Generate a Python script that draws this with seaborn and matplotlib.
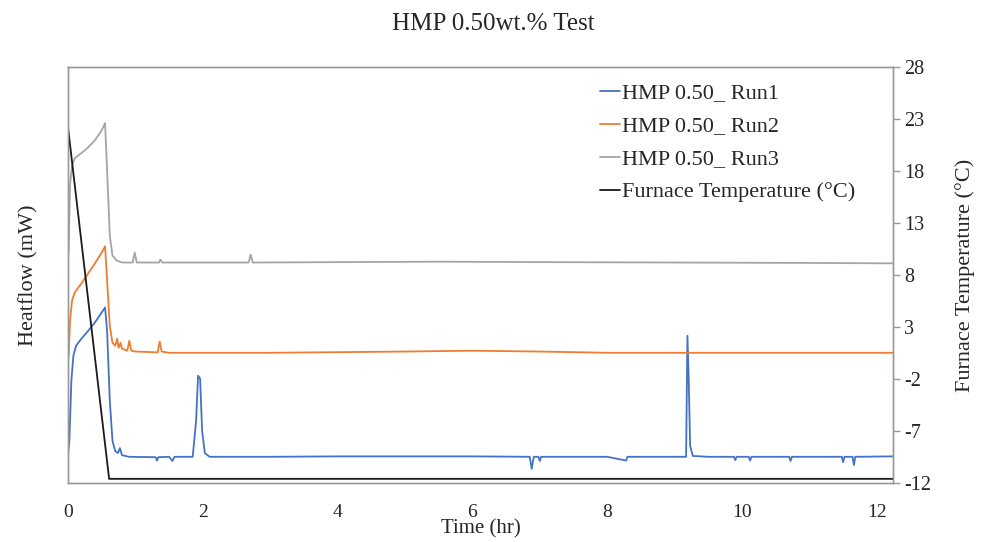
import matplotlib
matplotlib.use("Agg")
import matplotlib.pyplot as plt
import seaborn as sns
import pandas as pd

# ---- data ----
run1_t = [0.00, 0.02, 0.05, 0.08, 0.12, 0.20, 0.30, 0.40, 0.50, 0.55, 0.58, 0.62, 0.66, 0.70, 0.74, 0.77, 0.80,
          0.90, 1.30, 1.32, 1.34, 1.50, 1.55, 1.58, 1.85, 1.90, 1.93, 1.96, 1.99, 2.03, 2.10, 3.00, 4.00, 5.00,
          6.00, 6.85, 6.88, 6.91, 6.98, 7.00, 7.02, 8.00, 8.28, 8.30, 8.32, 9.17, 9.19, 9.21, 9.23, 9.27, 9.50,
          9.88, 9.90, 9.92, 10.10, 10.12, 10.14, 10.70, 10.72, 10.74, 11.48, 11.50, 11.52, 11.64, 11.66, 11.68,
          12.24]
run1_v = [7.0, 10.1, 24.6, 30.6, 33.0, 34.7, 36.6, 38.6, 41.0, 42.2, 36.6, 19.8, 10.1, 7.7, 7.2, 8.4, 6.7,
          6.3, 6.2, 5.4, 6.2, 6.3, 5.3, 6.3, 6.3, 14.9, 25.8, 25.1, 12.5, 7.2, 6.3, 6.3, 6.4, 6.4,
          6.4, 6.3, 3.4, 6.3, 6.3, 5.3, 6.3, 6.3, 5.4, 6.3, 6.3, 6.3, 35.4, 24.6, 8.9, 6.5, 6.3,
          6.3, 5.5, 6.3, 6.3, 5.4, 6.3, 6.3, 5.3, 6.3, 6.3, 5.0, 6.3, 6.3, 4.3, 6.3,
          6.4]

run2_t = [0.00, 0.01, 0.03, 0.06, 0.10, 0.20, 0.30, 0.40, 0.50, 0.55, 0.58, 0.62, 0.66, 0.70, 0.73, 0.75,
          0.78, 0.80, 0.88, 0.91, 0.94, 1.00, 1.33, 1.36, 1.39, 1.50, 3.00, 5.00, 6.00, 7.00, 8.00, 10.00, 12.24]
run2_v = [29.9, 30.6, 39.0, 43.9, 45.8, 48.0, 50.4, 52.8, 55.4, 56.9, 48.7, 37.8, 33.7, 33.0, 34.7, 32.5,
          33.7, 32.3, 31.8, 34.2, 31.8, 31.6, 31.4, 34.0, 31.6, 31.3, 31.3, 31.6, 31.8, 31.6, 31.3, 31.3, 31.3]

run3_t = [0.00, 0.01, 0.03, 0.06, 0.10, 0.20, 0.30, 0.40, 0.50, 0.55, 0.58, 0.62, 0.66, 0.72, 0.80, 0.96,
          0.99, 1.02, 1.35, 1.37, 1.40, 2.00, 2.68, 2.71, 2.74, 5.50, 7.00, 9.00, 11.00, 12.24]
run3_v = [54.2, 55.9, 71.6, 76.4, 78.1, 79.3, 80.7, 82.4, 84.8, 86.5, 75.2, 59.5, 54.7, 53.5, 53.0, 53.0,
          55.4, 53.0, 53.0, 53.7, 53.0, 53.0, 53.0, 54.9, 53.0, 53.2, 53.1, 53.0, 52.9, 52.8]

furnace_t = [0.00, 0.61, 12.24]
furnace_v = [22.2, -11.6, -11.6]

series_labels = ["HMP 0.50_ Run1", "HMP 0.50_ Run2", "HMP 0.50_ Run3", "Furnace Temperature (°C)"]
series_colors = ["#4472C4", "#ED7D31", "#A5A5A5", "#1a1a1a"]
x_ticks = [0, 2, 4, 6, 8, 10, 12]
temp_ticks = [-12, -7, -2, 3, 8, 13, 18, 23, 28]

# ---- style ----
sns.set_style("white")
plt.rcParams["font.family"] = ["Liberation Serif", "DejaVu Serif"]

fig = plt.figure(figsize=(9.86, 5.42), dpi=100)
ax = fig.add_axes([68 / 986, 1 - 483 / 542, (893 - 68) / 986, (483 - 67) / 542])
ax2 = ax.twinx()

df1 = pd.DataFrame({"t": run1_t, "v": run1_v})
df2 = pd.DataFrame({"t": run2_t, "v": run2_v})
df3 = pd.DataFrame({"t": run3_t, "v": run3_v})
dff = pd.DataFrame({"t": furnace_t, "v": furnace_v})

lw = 1.3
sns.lineplot(data=df1, x="t", y="v", ax=ax, color=series_colors[0], lw=lw, label=series_labels[0], legend=False)
sns.lineplot(data=df2, x="t", y="v", ax=ax, color=series_colors[1], lw=lw, label=series_labels[1], legend=False)
sns.lineplot(data=df3, x="t", y="v", ax=ax, color=series_colors[2], lw=lw, label=series_labels[2], legend=False)
sns.lineplot(data=dff, x="t", y="v", ax=ax2, color=series_colors[3], lw=lw, label=series_labels[3], legend=False)

ax.set_xlim(0, 12.24)
ax.set_ylim(0, 100)
ax2.set_ylim(-12, 28)
ax.set_xticks(x_ticks)
ax.set_xticklabels([str(v) for v in x_ticks], fontsize=14)
ax.tick_params(axis="x", length=0, pad=15)
ax.set_yticks([])
ax2.set_yticks(temp_ticks)
ax2.set_yticklabels([str(v) for v in temp_ticks], fontsize=14.5)
ax2.tick_params(axis="y", length=5, width=1, color="#999999", pad=3, direction="out")

ax.set_xlabel("Time (hr)", fontsize=15, labelpad=-1)
ax.set_ylabel("Heatflow (mW)", fontsize=16, labelpad=21)
ax2.set_ylabel("Furnace Temperature (°C)", fontsize=16, labelpad=17)

for a in (ax, ax2):
    for s in a.spines.values():
        s.set_visible(True)
        s.set_color("#999999")
        s.set_linewidth(1.0)

fig.suptitle("HMP 0.50wt.% Test", fontsize=18, x=0.5, y=0.976)

handles = ax.get_lines()[:3] + ax2.get_lines()[:1]
leg = ax2.legend(handles, series_labels, loc="upper left", bbox_to_anchor=(591 / 986, 1 - 74 / 542),
                 bbox_transform=fig.transFigure, frameon=False, fontsize=16, handlelength=0.9,
                 handletextpad=0.1, labelspacing=0.56, borderaxespad=0)

fig.savefig("out.png", dpi=100)
